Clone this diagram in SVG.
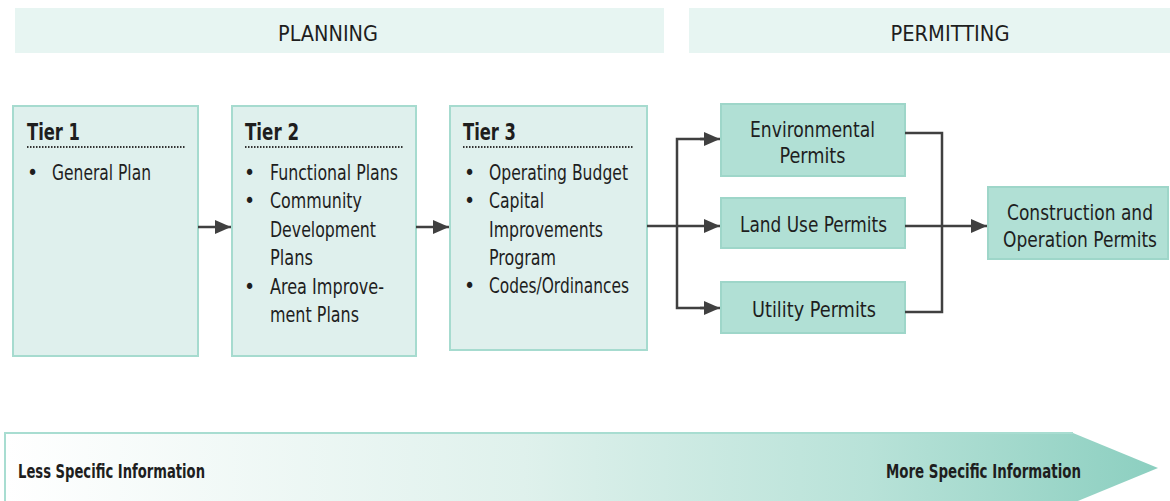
<svg xmlns="http://www.w3.org/2000/svg" width="1170" height="501" viewBox="0 0 1170 501">
<style>
  .hdr { fill: #e7f5f2; }
  .tier { fill: #dff0ed; stroke: #a6dbcf; stroke-width: 2; }
  .permit { fill: #b1e0d5; stroke: #9ed6c9; stroke-width: 2; }
  text { font-family: "Liberation Sans Narrow", "DejaVu Sans Condensed", "Roboto Condensed", Roboto, "Liberation Sans", sans-serif; fill: #1e1e1e; }
  .h { font-size: 22px; }
  .t { font-size: 23px; font-weight: bold; }
  .b { font-size: 21px; }
  .g { font-size: 20px; font-weight: bold; }
  .dot { stroke: #333; stroke-width: 2; stroke-dasharray: 1.5 1.5; fill: none; }
  .c { stroke: #404040; stroke-width: 2.5; fill: none; }
</style>
<defs>
  <marker id="ah" markerUnits="userSpaceOnUse" markerWidth="17" markerHeight="15" refX="16" refY="7" orient="auto">
    <path d="M0,0 L16,7 L0,14 z" fill="#404040"/>
  </marker>
  <linearGradient id="grad" x1="0" y1="0" x2="1" y2="0">
    <stop offset="0" stop-color="#ffffff"/>
    <stop offset="0.45" stop-color="#dff1ec"/>
    <stop offset="0.75" stop-color="#b8e2d8"/>
    <stop offset="1" stop-color="#8ccfc0"/>
  </linearGradient>
</defs>

<g id="header-planning">
  <rect class="hdr" x="15" y="8" width="649" height="45"/>
  <text class="h" x="328" y="41" text-anchor="middle" textLength="100" lengthAdjust="spacingAndGlyphs">PLANNING</text>
</g>
<g id="header-permitting">
  <rect class="hdr" x="689" y="8" width="481" height="45"/>
  <text class="h" x="950" y="41" text-anchor="middle" textLength="119" lengthAdjust="spacingAndGlyphs">PERMITTING</text>
</g>

<g id="tier1">
  <rect class="tier" x="13" y="106" width="185" height="250"/>
  <text class="t" x="27" y="140" textLength="53" lengthAdjust="spacingAndGlyphs">Tier 1</text>
  <line class="dot" x1="27" y1="147" x2="185" y2="147"/>
  <text class="b" x="27" y="180">•</text>
  <text class="b" x="52" y="180" textLength="99" lengthAdjust="spacingAndGlyphs">General Plan</text>
</g>

<g id="tier2">
  <rect class="tier" x="232" y="106" width="184" height="250"/>
  <text class="t" x="245" y="140" textLength="54" lengthAdjust="spacingAndGlyphs">Tier 2</text>
  <line class="dot" x1="245" y1="147" x2="404" y2="147"/>
  <text class="b" x="244" y="180">•</text>
  <text class="b" x="270" y="180" textLength="128" lengthAdjust="spacingAndGlyphs">Functional Plans</text>
  <text class="b" x="244" y="208">•</text>
  <text class="b" x="270" y="208" textLength="92" lengthAdjust="spacingAndGlyphs">Community</text>
  <text class="b" x="270" y="237" textLength="106" lengthAdjust="spacingAndGlyphs">Development</text>
  <text class="b" x="270" y="265" textLength="43" lengthAdjust="spacingAndGlyphs">Plans</text>
  <text class="b" x="244" y="294">•</text>
  <text class="b" x="270" y="294" textLength="114" lengthAdjust="spacingAndGlyphs">Area Improve-</text>
  <text class="b" x="270" y="322" textLength="89" lengthAdjust="spacingAndGlyphs">ment Plans</text>
</g>

<g id="tier3">
  <rect class="tier" x="450" y="106" width="197" height="244"/>
  <text class="t" x="463" y="140" textLength="53" lengthAdjust="spacingAndGlyphs">Tier 3</text>
  <line class="dot" x1="463" y1="147" x2="633" y2="147"/>
  <text class="b" x="464" y="180">•</text>
  <text class="b" x="489" y="180" textLength="139" lengthAdjust="spacingAndGlyphs">Operating Budget</text>
  <text class="b" x="464" y="208">•</text>
  <text class="b" x="489" y="208" textLength="55" lengthAdjust="spacingAndGlyphs">Capital</text>
  <text class="b" x="489" y="237" textLength="114" lengthAdjust="spacingAndGlyphs">Improvements</text>
  <text class="b" x="489" y="265" textLength="67" lengthAdjust="spacingAndGlyphs">Program</text>
  <text class="b" x="464" y="293">•</text>
  <text class="b" x="489" y="293" textLength="140" lengthAdjust="spacingAndGlyphs">Codes/Ordinances</text>
</g>

<g id="env-permits">
  <rect class="permit" x="721" y="104" width="184" height="72"/>
  <text class="b" x="812.5" y="137" text-anchor="middle" textLength="125" lengthAdjust="spacingAndGlyphs">Environmental</text>
  <text class="b" x="812.5" y="163" text-anchor="middle" textLength="66" lengthAdjust="spacingAndGlyphs">Permits</text>
</g>
<g id="landuse-permits">
  <rect class="permit" x="721" y="198" width="184" height="50"/>
  <text class="b" x="813.5" y="232" text-anchor="middle" textLength="147" lengthAdjust="spacingAndGlyphs">Land Use Permits</text>
</g>
<g id="utility-permits">
  <rect class="permit" x="721" y="282" width="184" height="51"/>
  <text class="b" x="814" y="317" text-anchor="middle" textLength="124" lengthAdjust="spacingAndGlyphs">Utility Permits</text>
</g>
<g id="construction-permits">
  <rect class="permit" x="988" y="187" width="180" height="72"/>
  <text class="b" x="1080" y="220" text-anchor="middle" textLength="146" lengthAdjust="spacingAndGlyphs">Construction and</text>
  <text class="b" x="1080" y="247" text-anchor="middle" textLength="154" lengthAdjust="spacingAndGlyphs">Operation Permits</text>
</g>

<g id="connectors">
  <line class="c" x1="198" y1="227" x2="231" y2="227" marker-end="url(#ah)"/>
  <line class="c" x1="416" y1="227" x2="449" y2="227" marker-end="url(#ah)"/>
  <line class="c" x1="647" y1="226" x2="720" y2="226" marker-end="url(#ah)"/>
  <polyline class="c" points="705,139 677,139 677,308 705,308"/>
  <line class="c" x1="700" y1="139" x2="720" y2="139" marker-end="url(#ah)"/>
  <line class="c" x1="700" y1="308" x2="720" y2="308" marker-end="url(#ah)"/>
  <polyline class="c" points="905,133 942,133 942,312 905,312"/>
  <line class="c" x1="905" y1="226" x2="987" y2="226" marker-end="url(#ah)"/>
</g>

<g id="specificity-arrow">
  <polygon points="5,433 1073,433 1158,468 1073,503 5,503" fill="url(#grad)"/>
  <polyline points="5,503 5,433 1073,433" fill="none" stroke="#a8ddd1" stroke-width="2"/>
  <text class="g" x="18" y="478" textLength="187" lengthAdjust="spacingAndGlyphs">Less Specific Information</text>
  <text class="g" x="886" y="478" textLength="195" lengthAdjust="spacingAndGlyphs">More Specific Information</text>
</g>
</svg>
